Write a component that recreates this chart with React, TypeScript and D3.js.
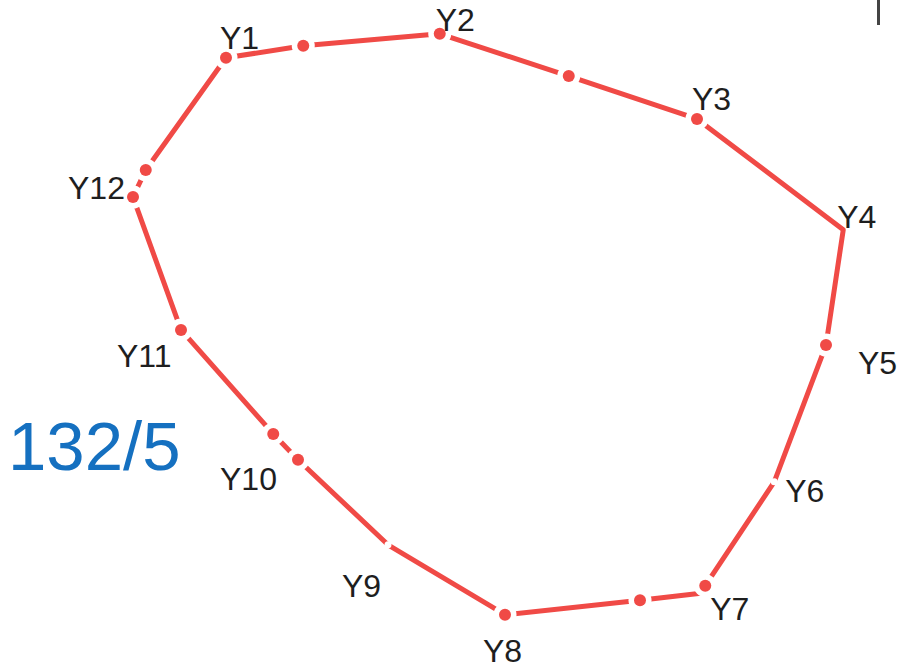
import React from "react";
import * as d3 from "d3";

// vertices of the closed outline, in chart units (x right, y up)
const pointX = [16.8, 27.1, 45.3, 62.5, 79.6, 99.1, 96.8, 89.9, 80.7, 80.1, 72.0, 54.0, 38.4, 26.4, 23.1, 10.8, 4.4, 6.1];
const pointY = [94.0, 95.9, 97.8, 91.1, 84.3, 66.7, 48.4, 26.7, 10.2, 9.0, 7.9, 5.6, 16.7, 30.2, 34.3, 50.8, 71.9, 76.2];
// "dot" = marker with a break in the line, "gap" = break only, "" = plain vertex
const pointMark = ["dot", "dot", "dot", "dot", "dot", "", "dot", "gap", "dot", "", "dot", "dot", "gap", "dot", "dot", "dot", "dot", "dot"];

const labelNames = ["Y1", "Y2", "Y3", "Y4", "Y5", "Y6", "Y7", "Y8", "Y9", "Y10", "Y11", "Y12"];
// which vertex each label belongs to
const labelPoint = [0, 2, 4, 5, 6, 7, 8, 11, 12, 13, 15, 16];
const title = "132/5";

export default function App() {
  const width = 899;
  const height = 671;

  const x = d3.scaleLinear().domain([0, 100]).range([100, 850]);
  const y = d3.scaleLinear().domain([0, 100]).range([650, 20]);

  const pts = pointX.map((v, i) => ({ x: v, y: pointY[i], mark: pointMark[i] }));

  const line = d3.line<{ x: number; y: number }>()
    .x(d => x(d.x))
    .y(d => y(d.y))
    .curve(d3.curveLinearClosed);

  // label offsets from their vertex, in pixels
  const labelOffset: [number, number][] = [
    [-6, -9], [-4, -3], [-5, -9], [-6, -2], [32, 29], [11, 20], [5, 34],
    [-22, 47], [-46, 52], [-78, 30], [-64, 37], [-65, 2]
  ];

  const red = "#f04a46";

  return (
    <svg width={width} height={height} style={{ position: "absolute", left: 0, top: 0 }}>
      <rect width={width} height={height} fill="#ffffff" />
      <path d={line(pts) ?? ""} fill="none" stroke={red} strokeWidth={5} strokeLinejoin="round" />

      {/* breaks in the line */}
      <g fill="#ffffff">
        {pts.map((d, i) =>
          d.mark ? <circle key={i} cx={x(d.x)} cy={y(d.y)} r={d.mark === "dot" ? 11.5 : 3.5} /> : null
        )}
      </g>

      {/* markers */}
      <g fill={red}>
        {pts.map((d, i) =>
          d.mark === "dot" ? <circle key={i} cx={x(d.x)} cy={y(d.y)} r={6} /> : null
        )}
      </g>

      <g fontFamily="Liberation Sans, Arial, sans-serif" fontSize={32} fill="#1e1e1e">
        {labelNames.map((name, i) => {
          const p = pts[labelPoint[i]];
          const [dx, dy] = labelOffset[i];
          return (
            <text key={name} x={x(p.x) + dx} y={y(p.y) + dy}>{name}</text>
          );
        })}
      </g>

      <text x={8} y={470} fontFamily="Liberation Sans, Arial, sans-serif" fontSize={69} fill="#1570c0">
        {title}
      </text>

      {/* small scanned mark at the top right */}
      <line x1={878.5} x2={878.5} y1={0} y2={25} stroke="#444" strokeWidth={3} />
    </svg>
  );
}
